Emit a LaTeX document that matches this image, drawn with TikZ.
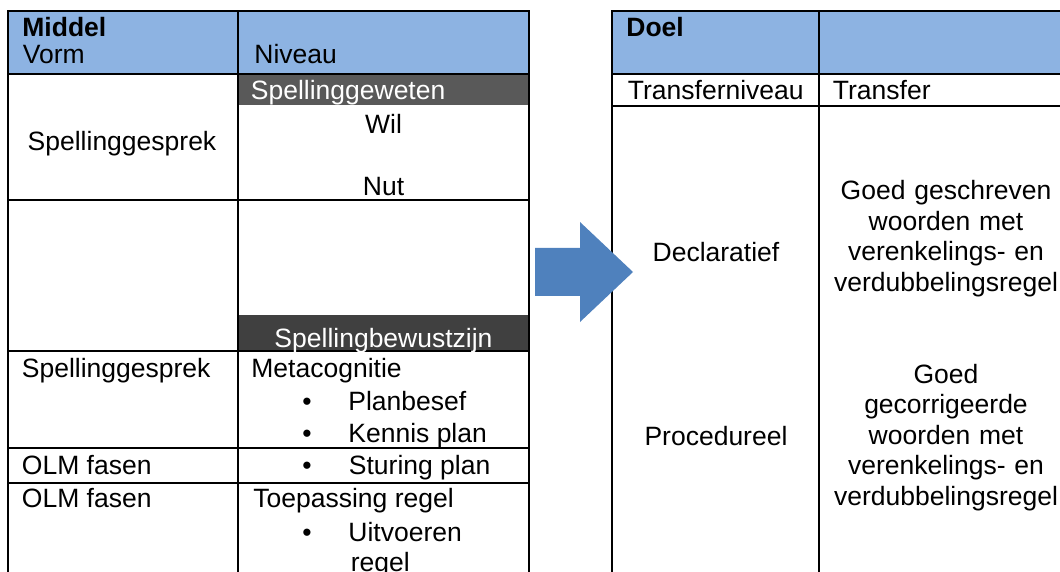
\documentclass[tikz,border=0pt]{standalone}
\usepackage{fontspec}
\setmainfont{Liberation Sans}
\usepackage{xcolor}
\definecolor{headblue}{RGB}{141,179,226}
\definecolor{bargray}{RGB}{89,89,89}
\definecolor{bardark}{RGB}{64,64,64}
\definecolor{arrowblue}{RGB}{79,129,189}

\begin{document}
\begin{tikzpicture}[x=0.5pt, y=-0.5pt,
    txt/.style={inner sep=0pt, anchor=base west, font=\fontsize{13.25}{15.3}\selectfont},
    ctr/.style={txt, anchor=base},
    blk/.style={ctr, text width=125pt, align=center},
    rule/.style={line width=1pt, black}]
        \clip (0,0) rectangle (1060,572);

        % Left table: fills
        \fill[headblue] (8,11) rectangle (529,74);
        \fill[bargray] (238,74) rectangle (529,105);
        \fill[bardark] (238,315) rectangle (529,351);

        % Left table: rules
        \draw[rule] (8,590) -- (8,11) -- (529,11) -- (529,590);
        \draw[rule] (238,11) -- (238,590);
        \draw[rule] (8,74) -- (529,74);
        \draw[rule] (8,200) -- (529,200);
        \draw[rule] (8,351) -- (529,351);
        \draw[rule] (8,448) -- (529,448);
        \draw[rule] (8,483) -- (529,483);

        % Left table: texts
        \node[txt, font=\fontsize{13.25}{15.3}\selectfont\bfseries] (middel) at (22,37) {Middel};
        \node[txt] (vorm) at (22.5,64) {Vorm};
        \node[txt] (niveau) at (254,64) {Niveau};
        \node[txt, white] (geweten) at (250.5,99.5) {Spellinggeweten};
        \node[ctr] (wil) at (383.5,133.5) {Wil};
        \node[ctr] (nut) at (383.5,196) {Nut};
        \node[ctr] (gesprekA) at (122,151) {Spellinggesprek};
        \node[ctr, white] (bewustzijn) at (383.5,347) {Spellingbewustzijn};
        \node[txt] (gesprekB) at (21.5,377) {Spellinggesprek};
        \node[txt] (metacog) at (251,377) {Metacognitie};
        \node[ctr] (dotA) at (307,410) {•};
        \node[txt] (planbesef) at (348,410) {Planbesef};
        \node[ctr] (dotB) at (307,442) {•};
        \node[txt] (kennis) at (348,442) {Kennis plan};
        \node[txt] (olmA) at (21.5,474) {OLM fasen};
        \node[ctr] (dotC) at (307,474) {•};
        \node[txt] (sturing) at (348.5,474) {Sturing plan};
        \node[txt] (olmB) at (21.5,507) {OLM fasen};
        \node[txt] (toepassing) at (253,507) {Toepassing regel};
        \node[ctr] (dotD) at (307,541) {•};
        \node[txt] (uitvoeren) at (348,541) {Uitvoeren};
        \node[txt] (regel) at (350.5,571) {regel};

        % Right table: fills and rules
        \fill[headblue] (612,11) rectangle (1080,74);
        \draw[rule] (612,590) -- (612,11) -- (1080,11);
        \draw[rule] (819,11) -- (819,590);
        \draw[rule] (612,74) -- (1080,74);
        \draw[rule] (612,106) -- (1080,106);

        % Right table: texts
        \node[txt, font=\fontsize{13.25}{15.3}\selectfont\bfseries] (doel) at (626,36.5) {Doel};
        \node[txt] (transferniveau) at (627.5,100) {Transferniveau};
        \node[txt] (transfer) at (832.5,100) {Transfer};
        \node[ctr] (declaratief) at (716,262) {Declaratief};
        \node[ctr] (procedureel) at (716,445) {Procedureel};
        \node[blk] (geschreven) at (946,199.5) {Goed geschreven\\woorden met\\verenkelings- en\\verdubbelingsregel};
        \node[blk] (gecorrigeerd) at (946,383) {Goed\\gecorrigeerde\\woorden met\\verenkelings- en\\verdubbelingsregel};

        % Arrow
        \fill[arrowblue] (535,248) -- (580,248) -- (580,222) -- (633,272)
            -- (580,322) -- (580,296) -- (535,296) -- cycle;
    \end{tikzpicture}
\end{document}
